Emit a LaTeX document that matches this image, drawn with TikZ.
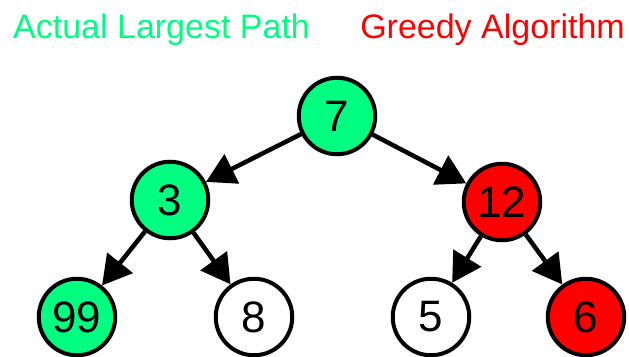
\documentclass[tikz,border=0pt]{standalone}
\usepackage{fontspec}
\setmainfont{Liberation Sans}
\usetikzlibrary{arrows.meta}
\definecolor{pathgreen}{RGB}{0,255,128}
\definecolor{greedyred}{RGB}{255,0,0}
\tikzset{
  treenode/.style={circle, draw=black, line width=4pt, minimum size=76.5pt, inner sep=0pt,
    font=\fontsize{44}{44}\selectfont},
  greennode/.style={treenode, fill=pathgreen},
  rednode/.style={treenode, fill=greedyred},
  whitenode/.style={treenode, fill=white},
  edge/.style={line width=4.5pt, -{Triangle[length=29pt,width=32pt]}},
  heading/.style={inner sep=0pt, font=\fontsize{34}{34}\selectfont}
}
\begin{document}
\begin{tikzpicture}[x=1pt, y=-1pt]
\useasboundingbox (0,0) rectangle (629,356);
\node[heading, text=pathgreen, anchor=base west] (h1) at (13,38) {Actual Largest Path};
\node[heading, text=greedyred, anchor=base east] (h2) at (625,38) {Greedy Algorithm};
\node[greennode] (n7) at (337,116) {7};
\node[greennode] (n3) at (170,200) {3};
\node[rednode] (n12) at (502,202) {12};
\node[greennode] (n99) at (77,317) {99};
\node[whitenode] (n8) at (254,317) {8};
\node[whitenode] (n5) at (431,317) {5};
\node[rednode] (n6) at (586,317) {6};
\draw[edge] (n7) -- (n3);
\draw[edge] (n7) -- (n12);
\draw[edge] (n3) -- (n99);
\draw[edge] (n3) -- (n8);
\draw[edge] (n12) -- (n5);
\draw[edge] (n12) -- (n6);
\end{tikzpicture}
\end{document}
